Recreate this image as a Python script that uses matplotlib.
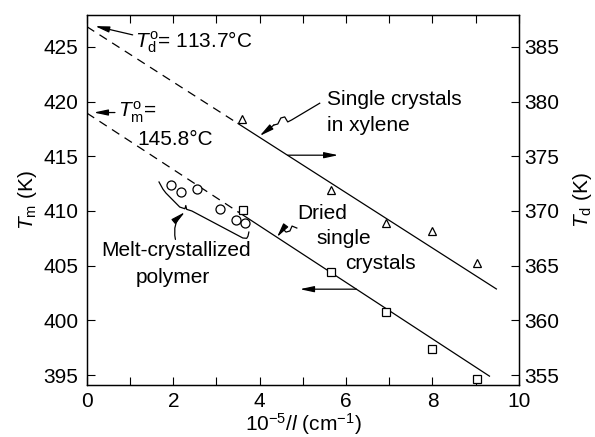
import matplotlib
matplotlib.use("Agg")
import matplotlib.pyplot as plt
from matplotlib.ticker import MultipleLocator

plt.rcParams['font.family'] = ['Liberation Sans', 'DejaVu Sans']
plt.rcParams['mathtext.fontset'] = 'custom'
plt.rcParams['mathtext.rm'] = 'Liberation Sans'
plt.rcParams['mathtext.it'] = 'Liberation Sans:italic'

# melt-crystallized polymer (Tm, left axis)
melt_x = [1.94, 2.18, 2.55, 3.08, 3.45, 3.67]
melt_tm = [412.4, 411.7, 412.0, 410.2, 409.2, 408.9]

# dried single crystals (Tm, left axis)
dried_x = [3.62, 5.66, 6.92, 7.99, 9.02]
dried_tm = [410.1, 404.4, 400.8, 397.4, 394.6]

# single crystals in xylene (Td, right axis)
xyl_x = [3.60, 5.66, 6.92, 7.98, 9.02]
xyl_td = [378.4, 371.9, 368.9, 368.2, 365.2]

# fitted lines: dashed extrapolation then solid part
tm_dash_x = [0, 3.5]
tm_dash_y = [418.95, 409.92]
tm_solid_x = [3.5, 9.32]
tm_solid_y = [409.92, 394.9]
td_dash_x = [0, 3.5]
td_dash_y = [386.85, 377.99]
td_solid_x = [3.5, 9.48]
td_solid_y = [377.99, 362.87]

fig = plt.figure(figsize=(5.95, 4.37), dpi=100)
ax = fig.add_axes([0.146, 0.119, 0.726, 0.847])
ax2 = ax.twinx()

ax.set_xlim(0, 10)
ax.set_ylim(394.09, 427.93)
ax2.set_ylim(354.09, 387.93)

lw = 0.9
ax.plot(tm_dash_x, tm_dash_y, color='black', lw=lw, dashes=(7, 5))
ax.plot(tm_solid_x, tm_solid_y, color='black', lw=lw)
ax2.plot(td_dash_x, td_dash_y, color='black', lw=lw, dashes=(7, 5))
ax2.plot(td_solid_x, td_solid_y, color='black', lw=lw)

ax.plot(melt_x, melt_tm, 'o', ms=6.5, mfc='white', mec='black', mew=0.9, ls='none')
ax.plot(dried_x, dried_tm, 's', ms=6, mfc='white', mec='black', mew=0.9, ls='none')
ax2.plot(xyl_x, xyl_td, '^', ms=6, mfc='white', mec='black', mew=0.9, ls='none')

fs = 15
ax.xaxis.set_major_locator(MultipleLocator(2))
ax.xaxis.set_minor_locator(MultipleLocator(1))
ax.yaxis.set_major_locator(MultipleLocator(5))
ax2.yaxis.set_major_locator(MultipleLocator(5))
ax.tick_params(axis='both', which='both', direction='in', top=True, labelsize=fs, length=6, width=0.8)
ax.tick_params(axis='x', which='both', pad=5)
ax.tick_params(axis='y', pad=6)
ax2.tick_params(axis='y', direction='in', labelsize=fs, length=6, width=0.8, pad=4)
for a in (ax, ax2):
    for s in a.spines.values():
        s.set_linewidth(0.9)

ax.set_xlabel(r'10$^{-5}$/$l$ (cm$^{-1}$)', fontsize=fs, labelpad=0)
ax.set_ylabel(r'$T_{\rm m}$ (K)', fontsize=fs, labelpad=3)
ax2.set_ylabel(r'$T_{\rm d}$ (K)', fontsize=fs, labelpad=8)

arr = dict(arrowstyle='-|>,head_length=0.7,head_width=0.15', color='black', lw=0.9,
           mutation_scale=12, shrinkA=0, shrinkB=0)

# intercept labels
ax.text(1.11, 425.4, r'$T^{\rm o}_{\rm d}$= 113.7°C', fontsize=fs, va='center', ha='left')
ax.annotate('', xy=(0.19, 426.9), xytext=(1.06, 426.1), arrowprops=arr)
ax.text(0.72, 419.0, r'$T^{\rm o}_{\rm m}$=', fontsize=fs, va='center', ha='left')
ax.text(1.18, 416.5, '145.8°C', fontsize=fs, va='center', ha='left')
ax.annotate('', xy=(0.16, 419.0), xytext=(0.65, 419.0), arrowprops=arr)

# single crystals in xylene
ax.text(5.56, 420.15, 'Single crystals', fontsize=fs, va='center', ha='left')
ax.text(5.56, 417.86, 'in xylene', fontsize=fs, va='center', ha='left')
sq_x = [5.39, 4.74, 4.65, 4.58, 4.49, 4.42, 4.33]
sq_y = [419.85, 418.32, 418.14, 418.6, 418.5, 417.95, 417.86]
ax.plot(sq_x, sq_y, color='black', lw=0.9)
ax.annotate('', xy=(4.0, 416.86), xytext=(4.33, 417.86), arrowprops=arr)
ax.annotate('', xy=(5.82, 415.1), xytext=(4.65, 415.1), arrowprops=arr)

# dried single crystals
ax.text(4.86, 409.8, 'Dried', fontsize=fs, va='center', ha='left')
ax.text(5.32, 407.5, 'single', fontsize=fs, va='center', ha='left')
ax.text(5.97, 405.2, 'crystals', fontsize=fs, va='center', ha='left')
dq_x = [4.86, 4.75, 4.70, 4.61, 4.54]
dq_y = [408.44, 408.62, 408.17, 408.07, 408.35]
ax.plot(dq_x, dq_y, color='black', lw=0.9)
ax.annotate('', xy=(4.40, 407.6), xytext=(4.54, 408.35), arrowprops=arr)
ax.annotate('', xy=(4.93, 402.85), xytext=(6.24, 402.85), arrowprops=arr)

# melt-crystallized polymer
ax.text(2.07, 406.4, 'Melt-crystallized', fontsize=fs, va='center', ha='center')
ax.text(1.99, 403.96, 'polymer', fontsize=fs, va='center', ha='center')
br_x = [1.67, 1.76, 1.83, 2.15, 2.27, 2.29, 2.31, 2.43, 3.61, 3.70, 3.73, 3.75]
br_y = [412.65, 412.0, 411.64, 410.36, 410.2, 410.5, 410.15, 410.0, 407.53, 407.5, 407.7, 408.07]
ax.plot(br_x, br_y, color='black', lw=0.9)
ax.annotate('', xy=(2.27, 409.9), xytext=(2.05, 407.4),
            arrowprops=dict(arr, connectionstyle='arc3,rad=-0.3'))

fig.savefig('out.png', dpi=100)
